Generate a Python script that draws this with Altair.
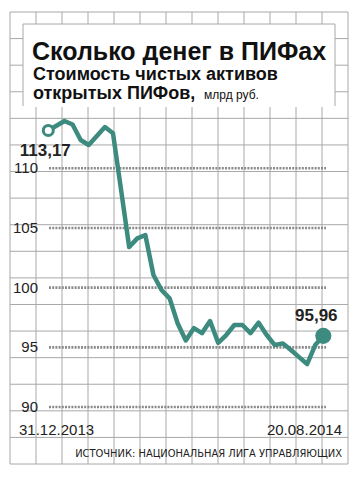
import altair as alt
import pandas as pd

# ---- data ----
week_idx = list(range(35))
nav_values = [113.17, 113.56, 113.96, 113.67, 112.37, 111.95, 112.71, 113.46, 112.93,
              108.18, 103.40, 104.13, 104.41, 101.06, 99.80, 99.10, 97.00, 95.57,
              96.61, 96.19, 97.20, 95.38, 96.03, 96.87, 96.87, 96.19, 97.06, 96.03,
              95.19, 95.33, 94.77, 94.18, 93.60, 95.19, 95.96]
ytick_values = [90, 95, 100, 105, 110]
ytick_labels = ["90", "95", "100", "105", "110"]
date_labels = ["31.12.2013", "20.08.2014"]
first_label = "113,17"
last_label = "95,96"
title_text = "Сколько денег в ПИФах"
subtitle_1 = "Стоимость чистых активов"
subtitle_2 = "открытых ПИФов,"
subtitle_unit = "млрд руб."
source_text = "ИСТОЧНИК: НАЦИОНАЛЬНАЯ ЛИГА УПРАВЛЯЮЩИХ"
paper_cols = list(range(14))
paper_rows = list(range(18))

TEAL = "#3d8a7f"
PAPER = "#a8a8a8"
FONT = "Liberation Sans"
NARROW = "DejaVu Sans Condensed, Liberation Sans"

df = pd.DataFrame({"i": week_idx, "v": nav_values})
ticks = pd.DataFrame({"v": ytick_values, "lab": ytick_labels})
first = df.iloc[[0]].assign(lab=first_label)
last = df.iloc[[-1]].assign(lab=last_label)

xs = alt.Scale(domain=[0, 34], range=[40.3, 315.3], nice=False, zero=False)
ys = alt.Scale(domain=[90, 110], range=[399, 160.3], nice=False, zero=False)

def one(text):
    return pd.DataFrame({"t": [text]})

paper_v = alt.Chart(pd.DataFrame({"c": paper_cols})).mark_rule(color=PAPER, strokeWidth=1).encode(
    x=alt.X("c:Q", scale=alt.Scale(domain=[0, 13], range=[2, 340], nice=False, zero=False), axis=None),
    y=alt.value(4), y2=alt.value(456))
paper_h = alt.Chart(pd.DataFrame({"r": paper_rows})).mark_rule(color=PAPER, strokeWidth=1).encode(
    y=alt.Y("r:Q", scale=alt.Scale(domain=[0, 17], range=[4, 456], nice=False, zero=False), axis=None),
    x=alt.value(2), x2=alt.value(340))

box = alt.Chart(one("")).mark_rect(fill="white").encode(
    x=alt.value(15), x2=alt.value(327), y=alt.value(16), y2=alt.value(99))
box_l = alt.Chart(one("")).mark_rule(color=PAPER).encode(x=alt.value(15), y=alt.value(16), y2=alt.value(98))
box_r = alt.Chart(one("")).mark_rule(color=PAPER).encode(x=alt.value(327), y=alt.value(16), y2=alt.value(98))
box_t = alt.Chart(one("")).mark_rule(color=PAPER).encode(y=alt.value(16), x=alt.value(15), x2=alt.value(327))

dots = alt.Chart(ticks).mark_rule(color="#8a8a8a", strokeWidth=2.6, strokeDash=[2, 1.2]).encode(
    y=alt.Y("v:Q", scale=ys, axis=None), x=alt.value(41), x2=alt.value(318))
ylabs = alt.Chart(ticks).mark_text(align="right", baseline="middle", font=FONT, fontSize=15,
                                    color="#222").encode(
    y=alt.Y("v:Q", scale=ys, axis=None), x=alt.value(30), text="lab:N")

line = alt.Chart(df).mark_line(color=TEAL, strokeWidth=4.5, strokeJoin="round", strokeCap="round").encode(
    x=alt.X("i:Q", scale=xs, axis=None), y=alt.Y("v:Q", scale=ys, axis=None))
p0 = alt.Chart(first).mark_point(shape="circle", size=100, filled=True, fill="white", stroke=TEAL,
                                 strokeWidth=3, opacity=1).encode(
    x=alt.X("i:Q", scale=xs, axis=None), y=alt.Y("v:Q", scale=ys, axis=None))
p1 = alt.Chart(last).mark_point(shape="circle", size=260, filled=True, color=TEAL, opacity=1).encode(
    x=alt.X("i:Q", scale=xs, axis=None), y=alt.Y("v:Q", scale=ys, axis=None))
t0 = alt.Chart(first).mark_text(font=FONT, fontSize=17, fontWeight="bold", color="#222", dx=-3, dy=21).encode(
    x=alt.X("i:Q", scale=xs, axis=None), y=alt.Y("v:Q", scale=ys, axis=None), text="lab:N")
t1 = alt.Chart(last).mark_text(font=FONT, fontSize=17, fontWeight="bold", color="#222", dx=-7, dy=-20).encode(
    x=alt.X("i:Q", scale=xs, axis=None), y=alt.Y("v:Q", scale=ys, axis=None), text="lab:N")

d0 = alt.Chart(one(date_labels[0])).mark_text(align="left", baseline="alphabetic", font=FONT, fontSize=15,
                                               color="#222").encode(x=alt.value(11), y=alt.value(427), text="t:N")
d1 = alt.Chart(one(date_labels[1])).mark_text(align="right", baseline="alphabetic", font=FONT, fontSize=15,
                                               color="#222").encode(x=alt.value(334), y=alt.value(427), text="t:N")
src = alt.Chart(one(source_text)).mark_text(align="right", baseline="alphabetic", font=NARROW,
                                            fontSize=11, color="#222").encode(
    x=alt.value(334), y=alt.value(449), text="t:N")

ttl = alt.Chart(one(title_text)).mark_text(align="left", baseline="alphabetic", font=FONT, fontSize=25,
                                           fontWeight="bold", color="#111").encode(
    x=alt.value(24), y=alt.value(52), text="t:N")
sub1 = alt.Chart(one(subtitle_1)).mark_text(align="left", baseline="alphabetic", font=FONT, fontSize=18,
                                            fontWeight="bold", color="#111").encode(
    x=alt.value(25), y=alt.value(71.5), text="t:N")
sub2 = alt.Chart(one(subtitle_2)).mark_text(align="left", baseline="alphabetic", font=FONT, fontSize=18,
                                            fontWeight="bold", color="#111").encode(
    x=alt.value(25), y=alt.value(91), text="t:N")
sub3 = alt.Chart(one(subtitle_unit)).mark_text(align="left", baseline="alphabetic", font=FONT, fontSize=12,
                                               color="#111").encode(
    x=alt.value(196), y=alt.value(91), text="t:N")

chart = alt.layer(paper_v, paper_h, box, box_l, box_r, box_t, dots, ylabs, line, p0, p1, t0, t1,
                  d0, d1, src, ttl, sub1, sub2, sub3).resolve_scale(
    x="independent", y="independent").properties(
    width=346, height=462, autosize=alt.AutoSizeParams(type="none"), padding=0,
    background="white").configure_view(strokeWidth=0)

chart.save("out.html", embed_options={"renderer": "svg", "actions": False})
